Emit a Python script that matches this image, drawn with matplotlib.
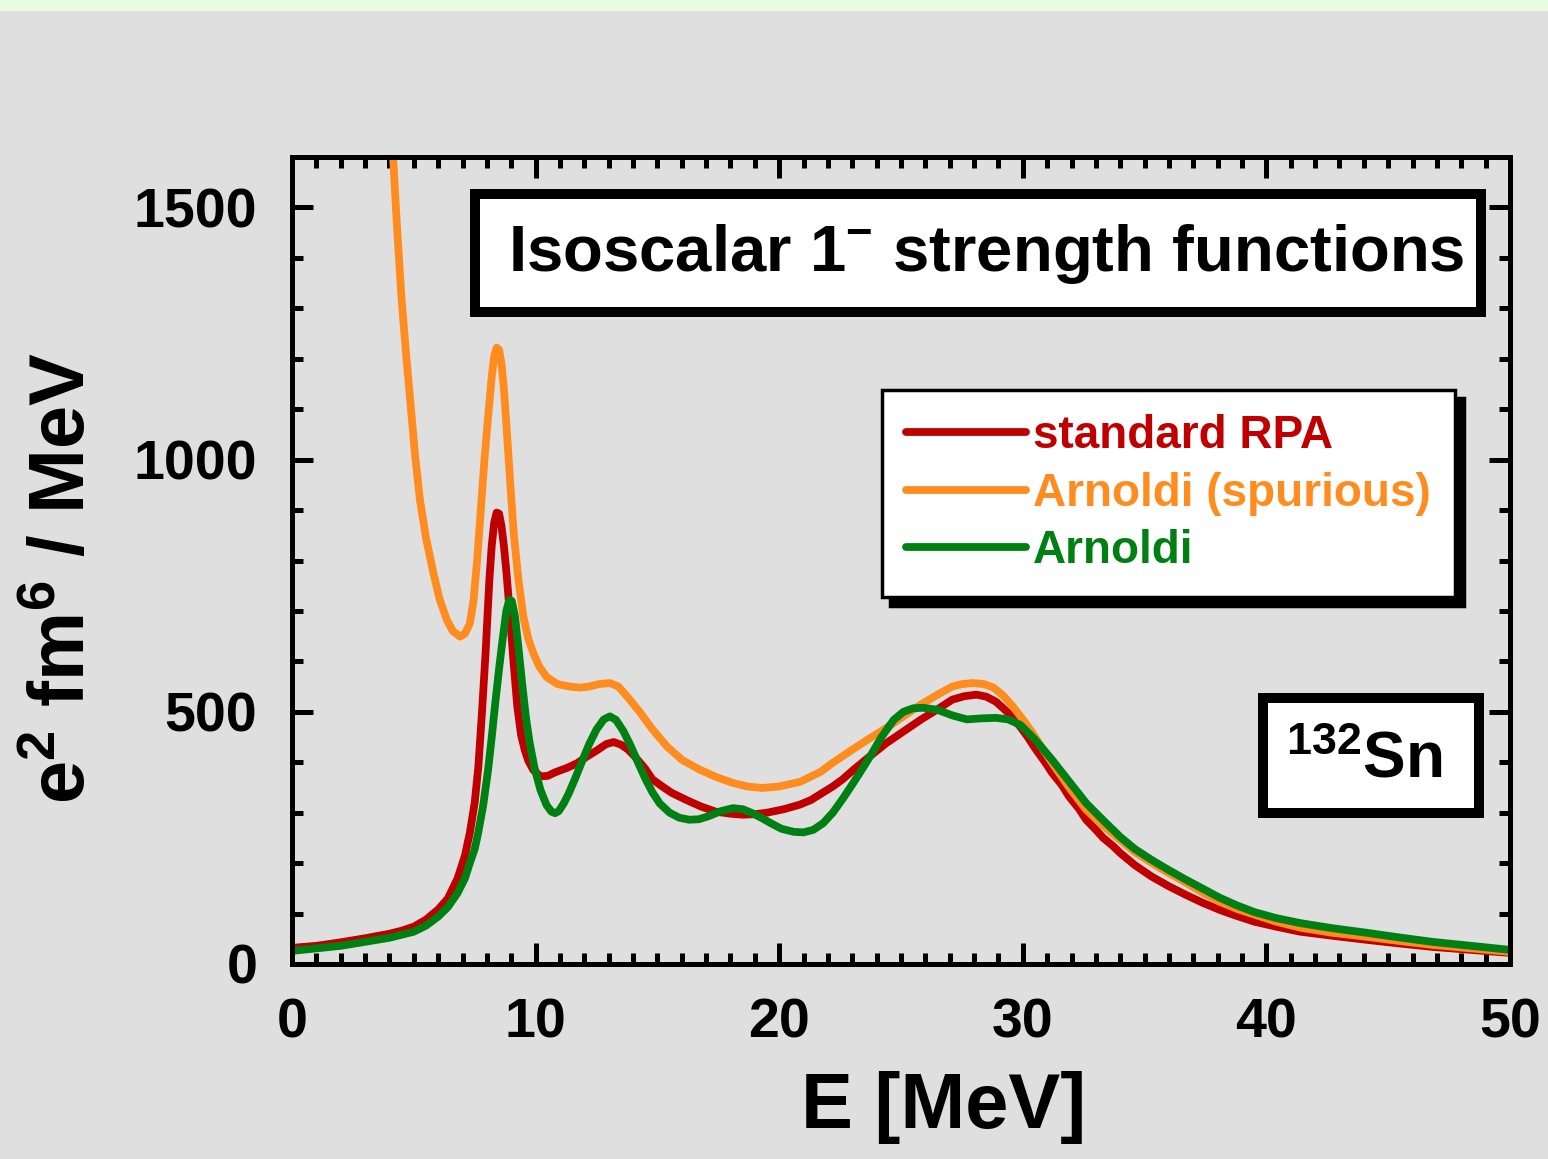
import matplotlib
matplotlib.use("Agg")
import matplotlib.pyplot as plt
from matplotlib.patches import Rectangle
from matplotlib.ticker import MultipleLocator

plt.rcParams["font.family"] = ["Liberation Sans", "DejaVu Sans"]
plt.rcParams["font.weight"] = "bold"
plt.rcParams["mathtext.fontset"] = "custom"
for k in ("rm", "it", "bf", "sf"):
    plt.rcParams["mathtext." + k] = "Liberation Sans:bold"

# standard RPA
e_rpa = [0, 1, 2, 3, 4, 4.5, 5, 5.5, 6, 6.4, 6.8, 7.1, 7.3, 7.5, 7.65, 7.8, 7.95,
         8.1, 8.2, 8.3, 8.4, 8.5, 8.6, 8.7, 8.8, 8.95, 9.1, 9.25, 9.4, 9.55, 9.7,
         9.9, 10.2, 10.5, 10.8, 11.3, 11.7, 12.1, 12.5, 12.9, 13.2, 13.5, 13.8,
         14.1, 14.5, 14.8, 15.2, 15.6, 16.2, 16.8, 17.4, 18.0, 18.5, 19.0, 19.5,
         20.2, 20.85, 21.3, 21.7, 22.2, 22.6, 23.0, 23.7, 24.4, 25.1, 25.8, 26.5,
         27.1, 27.6, 28.1, 28.5, 28.9, 29.4, 29.9, 30.2, 30.5, 30.9, 31.2, 31.6,
         31.9, 32.3, 32.6, 33.0, 33.3, 33.7, 34.0, 34.6, 35.3, 36.0, 36.7, 37.4,
         38.1, 38.8, 39.5, 40.4, 41.4, 42.7, 44.1, 45.4, 46.8, 48.4, 50]
s_rpa = [32, 36, 43, 51, 60, 66, 74, 88, 108, 130, 170, 215, 260, 320, 391, 500, 620,
         760, 830, 875, 895, 893, 868, 828, 778, 690, 595, 510, 455, 425, 403,
         385, 372, 373, 380, 389, 398, 411, 423, 436, 440, 435, 425,
         410, 387, 366, 352, 339, 325, 312, 302, 298, 296, 297, 300,
         307, 316, 325, 337, 352, 366, 383, 411, 438, 461, 484, 505,
         524, 531, 534, 530, 520, 498, 470, 450, 428, 401, 379, 355,
         332, 308, 286, 266, 250, 234, 220, 196, 173, 154, 137, 121,
         107, 95, 84, 74, 64, 56, 48, 41, 34, 28, 22]

# Arnoldi with spurious state
e_spur = [4.0, 4.15, 4.3, 4.5, 4.7, 4.85, 5.05, 5.25, 5.5, 5.8, 6.05, 6.35, 6.6,
          6.9, 7.1, 7.3, 7.45, 7.6, 7.75, 7.9, 8.05, 8.2, 8.3, 8.4, 8.5, 8.6, 8.7,
          8.8, 8.95, 9.1, 9.3, 9.5, 9.7, 9.9, 10.15, 10.45, 10.9, 11.4, 11.8,
          12.2, 12.6, 13.05, 13.4, 13.8, 14.3, 14.8, 15.4, 16.0, 16.75, 17.4,
          18.1, 18.7, 19.3, 20.0, 20.85, 21.7, 22.2, 23.0, 23.7, 24.4, 25.1,
          25.8, 26.5, 27.1, 27.5, 27.95, 28.4, 28.8, 29.2, 29.6, 30.0, 30.4,
          30.8, 31.2, 31.9, 32.6, 33.3, 34.0, 34.6, 35.3, 36.0, 36.7, 37.4, 38.1,
          38.8, 39.5, 40.4, 41.4, 42.7, 44.1, 45.4, 46.8, 48.4, 50]
s_spur = [1750, 1600, 1470, 1317, 1200, 1119, 1010, 921, 845, 776, 725, 683, 660,
          649, 655, 675, 720, 800, 900, 1000, 1085, 1165, 1205, 1222, 1218, 1190, 1140,
          1070, 960, 855, 760, 688, 645, 617, 590, 569, 555, 550, 548,
          550, 555, 557, 550, 528, 498, 465, 431, 405, 385, 371,
          359, 352, 349, 352, 361, 381, 399, 425, 447, 468, 491,
          514, 534, 550, 555, 557, 555, 548, 532, 510, 485, 458,
          428, 399, 350, 306, 274, 246, 222, 200, 180, 161, 141, 123,
          109, 98, 84, 72, 62, 54, 46, 38, 31, 24]

# Arnoldi
e_arn = [0, 1, 2, 3, 4, 4.5, 5, 5.5, 6, 6.4, 6.8, 7.1, 7.3, 7.5, 7.65, 7.85, 8.05,
         8.2, 8.35, 8.5, 8.65, 8.8, 8.92, 9.02, 9.15, 9.3, 9.45, 9.6, 9.75, 9.95,
         10.2, 10.45, 10.65, 10.8, 10.95, 11.15, 11.35, 11.6, 11.85, 12.2, 12.5,
         12.8, 13.05, 13.3, 13.6, 13.9, 14.2, 14.5, 14.8, 15.1, 15.5, 15.9, 16.3,
         16.7, 17.1, 17.6, 18.1, 18.5, 18.9, 19.3, 19.7, 20.1, 20.6, 21.0, 21.4,
         21.8, 22.2, 22.6, 23.0, 23.4, 23.8, 24.2, 24.7, 25.1, 25.5, 25.9, 26.5,
         27.1, 27.7, 28.3, 28.9, 29.4, 29.9, 30.5, 31.2, 31.9, 32.6, 33.3, 34.0,
         34.6, 35.3, 36.0, 36.7, 37.4, 38.1, 38.8, 39.5, 40.4, 41.4, 42.7, 44.1,
         45.4, 46.8, 48.4, 50]
s_arn = [26, 31, 36, 44, 52, 58, 64, 76, 94, 113, 141, 170, 200, 228, 262, 315, 385,
         450, 520, 585, 645, 700, 722, 720, 690, 625, 555, 490, 440, 390,
         345, 315, 302, 299, 303, 318, 337, 365, 395, 436, 465,
         485, 491, 484, 462, 433, 400, 368, 340, 318, 300, 290, 286,
         287, 293, 303, 309, 307, 299, 289, 278, 268, 262, 261, 266,
         279, 300, 327, 356, 386, 417, 450, 484, 500, 507, 508, 504,
         493, 485, 487, 488, 485, 474, 445, 405, 362, 319, 285, 252,
         228, 206, 186, 167, 149, 131, 116, 103, 91, 81, 71, 62,
         53, 44, 36, 28]

labels = ["standard RPA", "Arnoldi (spurious)", "Arnoldi"]
colors = ["#c00000", "#ff8c1e", "#008012"]

W, H = 1548, 1159
fig = plt.figure(figsize=(W / 100, H / 100), dpi=100, facecolor="#dfdfdf")
fig.patches.append(Rectangle((0, 1 - 10 / H), 1, 10 / H, transform=fig.transFigure,
                             color="#e8fde0", zorder=0))

x0, x1, y0, y1 = 292, 1510, 157, 964
ax = fig.add_axes([x0 / W, 1 - y1 / H, (x1 - x0) / W, (y1 - y0) / H])
ax.set_facecolor("#dfdfdf")


def ax_x(px):
    return (px - x0) / (x1 - x0)


def ax_y(py):
    return (y1 - py) / (y1 - y0)


lines = []
for e, s, c, lab in [(e_rpa, s_rpa, colors[0], labels[0]),
                     (e_spur, s_spur, colors[1], labels[1]),
                     (e_arn, s_arn, colors[2], labels[2])]:
    ln, = ax.plot(e, s, color=c, lw=5.6, label=lab, solid_joinstyle="round",
                  solid_capstyle="round")
    lines.append(ln)

ax.set_xlim(0, 50)
ax.set_ylim(0, 1600)
ax.set_xticks([0, 10, 20, 30, 40, 50])
ax.set_yticks([0, 500, 1000, 1500])
ax.xaxis.set_minor_locator(MultipleLocator(1))
ax.yaxis.set_minor_locator(MultipleLocator(100))
ax.tick_params(which="both", direction="in", top=True, right=True, width=3.6,
               labelsize=40)
ax.tick_params(which="major", length=15)
ax.tick_params(which="minor", length=8)
ax.tick_params(axis="x", pad=24)
ax.tick_params(axis="y", pad=25)
for sp in ax.spines.values():
    sp.set_linewidth(3.6)

fig.text(944 / W, 1 - 1108 / H, "E [MeV]", fontsize=56, ha="center", va="center")
fig.text(65 / W, 1 - 578 / H, r"e$^{2}$ fm$^{6}$ / MeV", fontsize=56,
         rotation=90, ha="center", va="center")


# framed white boxes for title and nucleus
def box(px0, py0, px1, py1, lw):
    ax.add_patch(Rectangle((ax_x(px0), ax_y(py1)), ax_x(px1) - ax_x(px0),
                           ax_y(py0) - ax_y(py1), transform=ax.transAxes,
                           facecolor="black", edgecolor="none", zorder=9,
                           clip_on=False))
    ax.add_patch(Rectangle((ax_x(px0 + lw), ax_y(py1 - lw)),
                           ax_x(px1 - lw) - ax_x(px0 + lw),
                           ax_y(py0 + lw) - ax_y(py1 - lw),
                           transform=ax.transAxes, facecolor="white",
                           edgecolor="none", zorder=10, clip_on=False))


box(470, 189, 1486, 317, 10)
ax.text(ax_x(986), ax_y(254), r"Isoscalar 1$^{-}$ strength functions",
        transform=ax.transAxes, fontsize=47, ha="center", va="center", zorder=11)

box(1258, 693, 1484, 818, 10)
ax.text(ax_x(1364), ax_y(761), r"$^{132}$Sn", transform=ax.transAxes,
        fontsize=46, ha="center", va="center", zorder=11)

leg = ax.legend(handles=lines, loc="upper left",
                bbox_to_anchor=(ax_x(882), ax_y(390)), borderaxespad=0,
                frameon=True, fancybox=False, edgecolor="black", framealpha=1,
                prop={"size": 33, "weight": "bold"}, labelcolor="linecolor",
                handlelength=2.62, handletextpad=0.15, borderpad=0.53,
                labelspacing=0.29,
                shadow={"ox": 6, "oy": -6, "color": "black", "alpha": 1})
leg.get_frame().set_linewidth(2.5)
leg.set_zorder(12)
for h in leg.legend_handles:
    h.set_linewidth(5.6)

fig.savefig("out.png", dpi=100, facecolor=fig.get_facecolor())
